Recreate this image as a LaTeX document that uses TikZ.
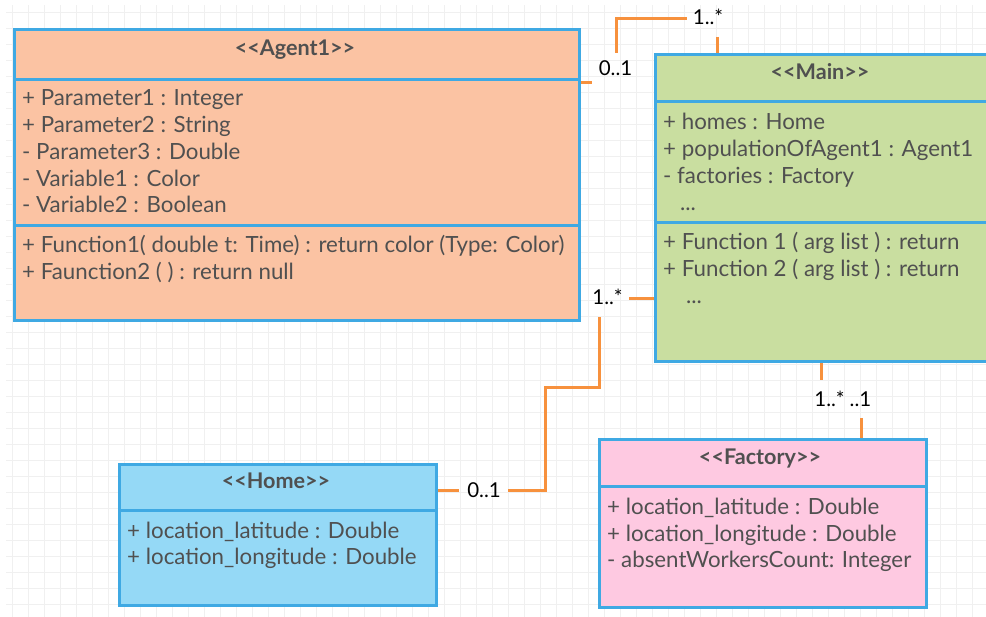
\documentclass[tikz,border=0pt]{standalone}
\usepackage{fontspec}
\setmainfont{Lato}[Ligatures=TeXOff]
\definecolor{umlblue}{HTML}{3FA9E3}
\definecolor{agentfill}{HTML}{FBC3A3}
\definecolor{mainfill}{HTML}{C9DEA0}
\definecolor{homefill}{HTML}{95D9F6}
\definecolor{factoryfill}{HTML}{FEC9E1}
\definecolor{linkorange}{HTML}{F7913D}
\definecolor{txtgray}{HTML}{505050}
\definecolor{gridgray}{HTML}{F0F0F0}
\tikzset{
  classbox/.style={draw=umlblue, line width=3pt, rectangle, inner sep=0pt, anchor=north west},
  divider/.style={draw=umlblue, line width=3pt},
  title/.style={anchor=base, inner sep=0pt, text=txtgray, font=\fontsize{21.6}{26}\selectfont\bfseries},
  attr/.style={anchor=base west, inner sep=0pt, text=txtgray, font=\fontsize{22.3}{26}\selectfont},
  mult/.style={anchor=base, inner sep=0pt, text=black, font=\fontsize{20.5}{24}\selectfont},
  conn/.style={draw=linkorange, line width=3pt}
}
\begin{document}
\begin{tikzpicture}[x=1pt, y=-1pt]
\useasboundingbox (0,0) rectangle (986,617);
% background grid
\foreach \k in {0,...,61} {
  \draw[gridgray, line width=1pt] ({12.3+16*\k},5) -- ({12.3+16*\k},617);
}
\foreach \k in {0,...,37} {
  \draw[gridgray, line width=1pt] (6,{12.3+16*\k}) -- (986,{12.3+16*\k});
}

% class boxes
\node[classbox, fill=agentfill, minimum width=565pt, minimum height=291pt] (agent) at (13,28) {};
\node[classbox, fill=mainfill, minimum width=345pt, minimum height=307pt] (main) at (654,53) {};
\node[classbox, fill=homefill, minimum width=317pt, minimum height=141pt] (home) at (118,463) {};
\node[classbox, fill=factoryfill, minimum width=327pt, minimum height=168pt] (factory) at (598,438) {};

% compartment dividers
\draw[divider] (agent.west |- 0,80) -- (agent.east |- 0,80);
\draw[divider] (agent.west |- 0,226) -- (agent.east |- 0,226);
\draw[divider] (main.west |- 0,102) -- (main.east |- 0,102);
\draw[divider] (main.west |- 0,223) -- (main.east |- 0,223);
\draw[divider] (home.west |- 0,511) -- (home.east |- 0,511);
\draw[divider] (factory.west |- 0,487) -- (factory.east |- 0,487);

% Agent1
\node[title] (agentT) at (295,56) {<<Agent1>>};
\node[attr] (agentA1) at (22,106) {+ Parameter1 : Integer};
\node[attr] (agentA2) at (22,133) {+ Parameter2 : String};
\node[attr] (agentA3) at (22,159.5) {- Parameter3 : Double};
\node[attr] (agentA4) at (22,186.5) {- Variable1 : Color};
\node[attr] (agentA5) at (22,213) {- Variable2 : Boolean};
\node[attr] (agentF1) at (22,253) {+ Function1( double t: Time) : return color (Type: Color)};
\node[attr] (agentF2) at (22,280) {+ Faunction2 ( ) : return null};

% Main
\node[title] (mainT) at (820,79.5) {<<Main>>};
\node[attr] (mainA1) at (663,130) {+ homes : Home};
\node[attr] (mainA2) at (663,156.7) {+ populationOfAgent1 : Agent1};
\node[attr] (mainA3) at (663,183.3) {- factories : Factory};
\node[attr] (mainA4) at (680,211) {...};
\node[attr] (mainF1) at (663,250) {+ Function 1 ( arg list ) : return};
\node[attr] (mainF2) at (663,276.7) {+ Function 2 ( arg list ) : return};
\node[attr] (mainF3) at (686,304) {...};

% Home
\node[title] (homeT) at (276,488.3) {<<Home>>};
\node[attr] (homeA1) at (127,538.3) {+ location\_latitude : Double};
\node[attr] (homeA2) at (127,565) {+ location\_longitude : Double};

% Factory
\node[title] (factoryT) at (760,465) {<<Factory>>};
\node[attr] (factoryA1) at (607,514.3) {+ location\_latitude : Double};
\node[attr] (factoryA2) at (607,541) {+ location\_longitude : Double};
\node[attr] (factoryA3) at (607,567.7) {- absentWorkersCount: Integer};

% multiplicities
\node[mult] (mAgent) at (615.5,76) {0..1};
\node[mult] (mMainTop) at (708,25) {1..*};
\node[mult] (mMainLeft) at (607.5,305) {1..*};
\node[mult] (mHome) at (484,497.5) {0..1};
\node[mult] (mMainBottom) at (829.5,407) {1..*};
\node[mult] (mFactory) at (860.5,407) {..1};

% Agent1 -- Main
\draw[conn] (agent.east |- 0,83) -- (592,83);
\draw[conn] (616,53) -- (616,19) -- (687,19);
\draw[conn] (717,37) -- (717,0 |- main.north);

% Home -- Main
\draw[conn] (home.east |- 0,491) -- (459,491);
\draw[conn] (508,491) -- (545,491) -- (545,388) -- (599,388) -- (599,317);
\draw[conn] (629,299) -- (main.west |- 0,299);

% Main -- Factory
\draw[conn] (821,0 |- main.south) -- (821,380);
\draw[conn] (861,418) -- (861,0 |- factory.north);
\end{tikzpicture}
\end{document}
